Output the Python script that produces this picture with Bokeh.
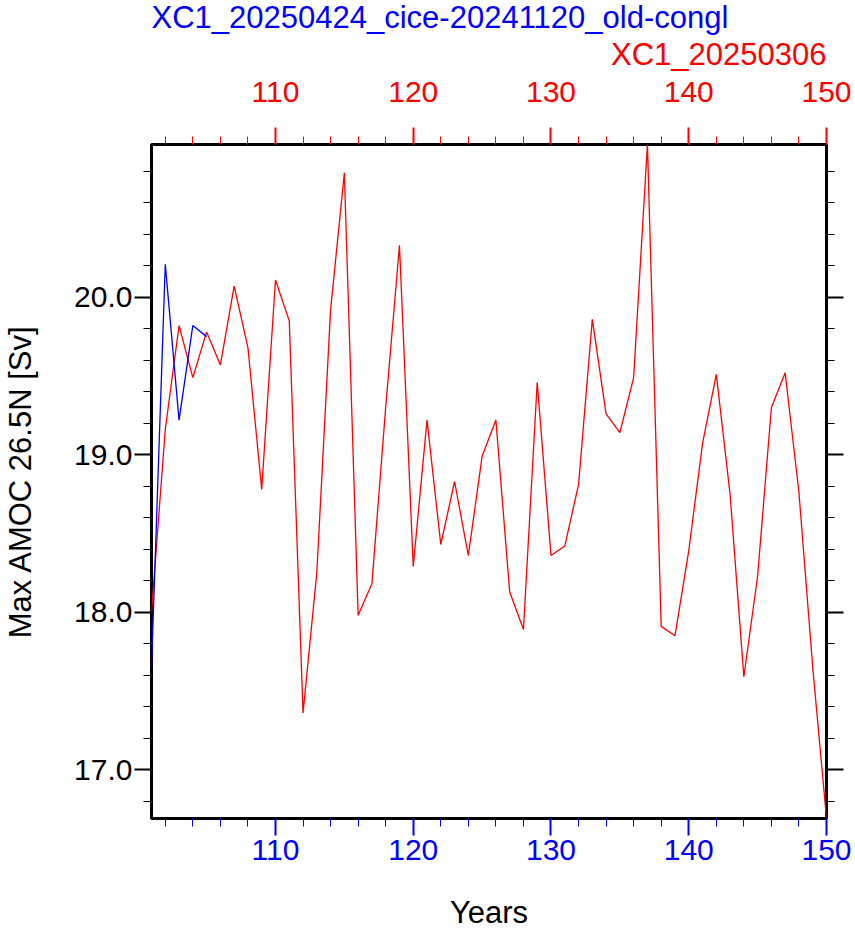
from bokeh.plotting import figure
from bokeh.models import Range1d, LinearAxis, FixedTicker, PrintfTickFormatter, Title
from bokeh.embed import file_html
from bokeh.resources import INLINE

# ---- data ----
years = list(range(101, 151))
amoc_xc1_20250306 = [
    18.00, 19.16, 19.82, 19.49, 19.78, 19.57, 20.07, 19.68, 18.78, 20.11,
    19.85, 17.36, 18.25, 19.92, 20.79, 17.98, 18.18, 19.30, 20.33, 18.29,
    19.22, 18.43, 18.83, 18.36, 18.99, 19.22, 18.13, 17.89, 19.46, 18.36,
    18.42, 18.81, 19.86, 19.26, 19.14, 19.49, 20.97, 17.91, 17.85, 18.39,
    19.07, 19.51, 18.75, 17.59, 18.23, 19.30, 19.52, 18.76, 17.65, 16.69,
]
years_cice = [101, 102, 103, 104, 105]
amoc_xc1_cice = [17.65, 20.21, 19.22, 19.82, 19.75]

x_major = [110, 120, 130, 140, 150]
x_minor = list(range(102, 151, 2))
y_major = [17.0, 18.0, 19.0, 20.0]
y_minor = [16.8, 17.0, 17.2, 17.4, 17.6, 17.8, 18.0, 18.2, 18.4, 18.6, 18.8,
           19.0, 19.2, 19.4, 19.6, 19.8, 20.0, 20.2, 20.4, 20.6, 20.8]

title_blue = "XC1_20250424_cice-20241120_old-congl"
title_red = "XC1_20250306"
x_title = "Years"
y_title = "Max AMOC 26.5N [Sv]"

FONT = "Liberation Sans"
FS = "30px"
FS_T = "31px"

all_vals = amoc_xc1_20250306 + amoc_xc1_cice
y_lo, y_hi = min(all_vals), max(all_vals)

p = figure(width=855, height=932, output_backend="svg", toolbar_location=None,
           x_range=Range1d(min(years), max(years)), y_range=Range1d(y_lo, y_hi),
           min_border_left=151, min_border_right=29, min_border_top=144,
           min_border_bottom=114, background_fill_color="white",
           border_fill_color="white")
p.title.visible = False
p.xgrid.visible = False
p.ygrid.visible = False
p.outline_line_color = "black"
p.outline_line_width = 3
p.outline_line_alpha = 1.0

p.line(years, amoc_xc1_20250306, line_color="red", line_width=1.3)
p.line(years_cice, amoc_xc1_cice, line_color="blue", line_width=1.3)


def style(ax, color, labels=True):
    ax.axis_line_color = None
    ax.major_tick_line_color = color
    ax.minor_tick_line_color = color
    ax.major_tick_line_width = 2
    ax.minor_tick_line_width = 1
    ax.major_tick_in = 0
    ax.major_tick_out = 17
    ax.minor_tick_in = 0
    ax.minor_tick_out = 8
    ax.major_label_text_color = color
    ax.major_label_text_font = FONT
    ax.major_label_text_font_size = FS if labels else "0px"
    ax.axis_label_text_font = FONT
    ax.axis_label_text_font_size = FS_T
    ax.axis_label_text_font_style = "normal"
    ax.axis_label_text_color = "black"


xt = FixedTicker(ticks=x_major, minor_ticks=x_minor)
yt = FixedTicker(ticks=y_major, minor_ticks=y_minor)

bx = p.xaxis[0]
bx.ticker = xt
style(bx, "blue")
bx.major_label_standoff = 4
bx.axis_label = x_title
bx.axis_label_standoff = 32

ly = p.yaxis[0]
ly.ticker = yt
ly.formatter = PrintfTickFormatter(format="%.1f")
style(ly, "black")
ly.major_label_standoff = 2
ly.axis_label = y_title
ly.axis_label_standoff = 33

top = LinearAxis(ticker=FixedTicker(ticks=x_major, minor_ticks=x_minor))
style(top, "red")
top.major_label_standoff = 26
p.add_layout(top, "above")

right = LinearAxis(ticker=FixedTicker(ticks=y_major, minor_ticks=y_minor))
style(right, "black", labels=False)
right.major_label_standoff = 0
p.add_layout(right, "right")

t_red = Title(text=title_red, align="right", text_color="red", text_font=FONT,
              text_font_size=FS_T, text_font_style="normal", standoff=13)
t_blue = Title(text=title_blue, align="left", text_color="blue", text_font=FONT,
               text_font_size=FS_T, text_font_style="normal", standoff=-12)
p.add_layout(t_red, "above")
p.add_layout(t_blue, "above")

open("out.html", "w").write(file_html(p, INLINE))
